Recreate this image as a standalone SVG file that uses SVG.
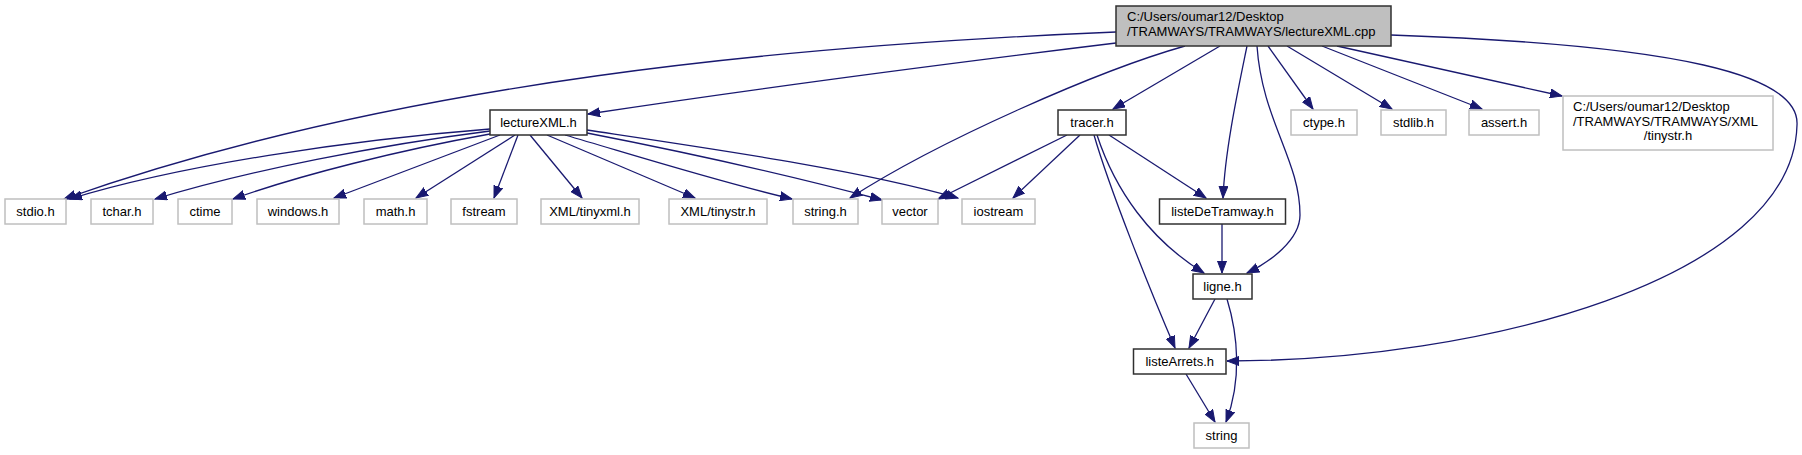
<svg xmlns="http://www.w3.org/2000/svg" width="1802" height="455" viewBox="0 0 1802 455">
<style>
text{font-family:"Liberation Sans",Arial,sans-serif;font-size:13px;fill:#000}
.n rect{fill:#fff;stroke:#bfbfbf;stroke-width:1.5}
.d rect{fill:#fff;stroke:#303030;stroke-width:1.5}
.m rect{fill:#bfbfbf;stroke:#303030;stroke-width:1.5}
.c{text-anchor:middle}
#edges path{fill:none;stroke:#191970;stroke-width:1.3;marker-end:url(#arr)}
</style>
<defs>
<marker id="arr" markerWidth="13" markerHeight="10" refX="12" refY="5" orient="auto" markerUnits="userSpaceOnUse">
<path d="M0,0.5 L12,5 L0,9.5 z" fill="#191970" stroke="#191970" stroke-width="1"/>
</marker>
</defs>
<rect width="1802" height="455" fill="#fff"/>
<g id="edges">
<path d="M1116,32 C800,45 400,80 64,199"/>
<path d="M1116,43 C960,62 760,88 588,114"/>
<path d="M1185,46 C1100,70 940,140 850,198"/>
<path d="M1220,46 L1113,109"/>
<path d="M1247,46 C1238,90 1225,150 1223,198"/>
<path d="M1257,46 C1262,120 1300,160 1300,215 C1300,240 1270,262 1247,273"/>
<path d="M1268,46 L1313,109"/>
<path d="M1287,46 L1392,109"/>
<path d="M1322,46 L1482,109"/>
<path d="M1337,46 L1562,96"/>
<path d="M1391,35 C1680,45 1800,75 1797,125 C1793,280 1480,361 1227,361"/>
<path d="M1067,135 L938,199"/>
<path d="M1080,135 L1013,198"/>
<path d="M1109,135 L1206,198"/>
<path d="M1097,135 C1115,190 1150,240 1204,273"/>
<path d="M1094,135 C1110,190 1150,290 1175,348"/>
<path d="M1222,224 L1222,273"/>
<path d="M1215,299 L1189,348"/>
<path d="M1227,299 C1238,335 1242,380 1226,422"/>
<path d="M1186,374 L1215,422"/>
<path d="M490,129 C350,140 180,165 70,199"/>
<path d="M490,131 C380,145 250,170 155,199"/>
<path d="M490,134 C400,150 300,175 233,199"/>
<path d="M500,135 L334,198"/>
<path d="M515,135 L416,198"/>
<path d="M518,135 L494,198"/>
<path d="M530,135 L582,198"/>
<path d="M547,135 L695,198"/>
<path d="M565,135 C650,160 720,182 792,199"/>
<path d="M587,133 C700,155 800,178 882,200"/>
<path d="M587,130 C720,150 860,170 958,198"/>
</g>
<g id="main" class="m"><rect x="1116" y="6" width="275" height="40"/><text x="1127" y="21">C:/Users/oumar12/Desktop</text><text x="1127" y="35.5">/TRAMWAYS/TRAMWAYS/lectureXML.cpp</text></g>
<g id="lectureXML" class="d"><rect x="490" y="110" width="97" height="25"/><text class="c" x="538.5" y="126.5">lectureXML.h</text></g>
<g id="tracer" class="d"><rect x="1058" y="110" width="68" height="25"/><text class="c" x="1092" y="126.5">tracer.h</text></g>
<g id="ctype" class="n"><rect x="1291" y="110" width="66" height="25"/><text class="c" x="1324" y="126.5">ctype.h</text></g>
<g id="stdlib" class="n"><rect x="1381" y="110" width="65" height="25"/><text class="c" x="1413.5" y="126.5">stdlib.h</text></g>
<g id="assert" class="n"><rect x="1469" y="110" width="70" height="25"/><text class="c" x="1504" y="126.5">assert.h</text></g>
<g id="tinystrfull" class="n"><rect x="1563" y="96" width="210" height="54"/><text x="1573" y="111">C:/Users/oumar12/Desktop</text><text x="1573" y="125.5">/TRAMWAYS/TRAMWAYS/XML</text><text class="c" x="1668" y="140">/tinystr.h</text></g>
<g id="stdio" class="n"><rect x="5" y="199" width="61" height="25"/><text class="c" x="35.5" y="215.5">stdio.h</text></g>
<g id="tchar" class="n"><rect x="91" y="199" width="62" height="25"/><text class="c" x="122" y="215.5">tchar.h</text></g>
<g id="ctime" class="n"><rect x="178" y="199" width="54" height="25"/><text class="c" x="205" y="215.5">ctime</text></g>
<g id="windows" class="n"><rect x="257" y="199" width="82" height="25"/><text class="c" x="298" y="215.5">windows.h</text></g>
<g id="math" class="n"><rect x="364" y="199" width="63" height="25"/><text class="c" x="395.5" y="215.5">math.h</text></g>
<g id="fstream" class="n"><rect x="451" y="199" width="66" height="25"/><text class="c" x="484" y="215.5">fstream</text></g>
<g id="tinyxml" class="n"><rect x="541" y="199" width="98" height="25"/><text class="c" x="590" y="215.5">XML/tinyxml.h</text></g>
<g id="tinystr" class="n"><rect x="669" y="199" width="98" height="25"/><text class="c" x="718" y="215.5">XML/tinystr.h</text></g>
<g id="stringh" class="n"><rect x="793" y="199" width="65" height="25"/><text class="c" x="825.5" y="215.5">string.h</text></g>
<g id="vector" class="n"><rect x="882" y="199" width="56" height="25"/><text class="c" x="910" y="215.5">vector</text></g>
<g id="iostream" class="n"><rect x="962" y="199" width="73" height="25"/><text class="c" x="998.5" y="215.5">iostream</text></g>
<g id="listeDeTramway" class="d"><rect x="1159.5" y="199" width="126" height="25"/><text class="c" x="1222.5" y="215.5">listeDeTramway.h</text></g>
<g id="ligne" class="d"><rect x="1193" y="274" width="59" height="25"/><text class="c" x="1222.5" y="290.5">ligne.h</text></g>
<g id="listeArrets" class="d"><rect x="1133.5" y="349" width="92.5" height="25"/><text class="c" x="1179.75" y="365.5">listeArrets.h</text></g>
<g id="string" class="n"><rect x="1194" y="423" width="55" height="25"/><text class="c" x="1221.5" y="439.5">string</text></g>
</svg>
